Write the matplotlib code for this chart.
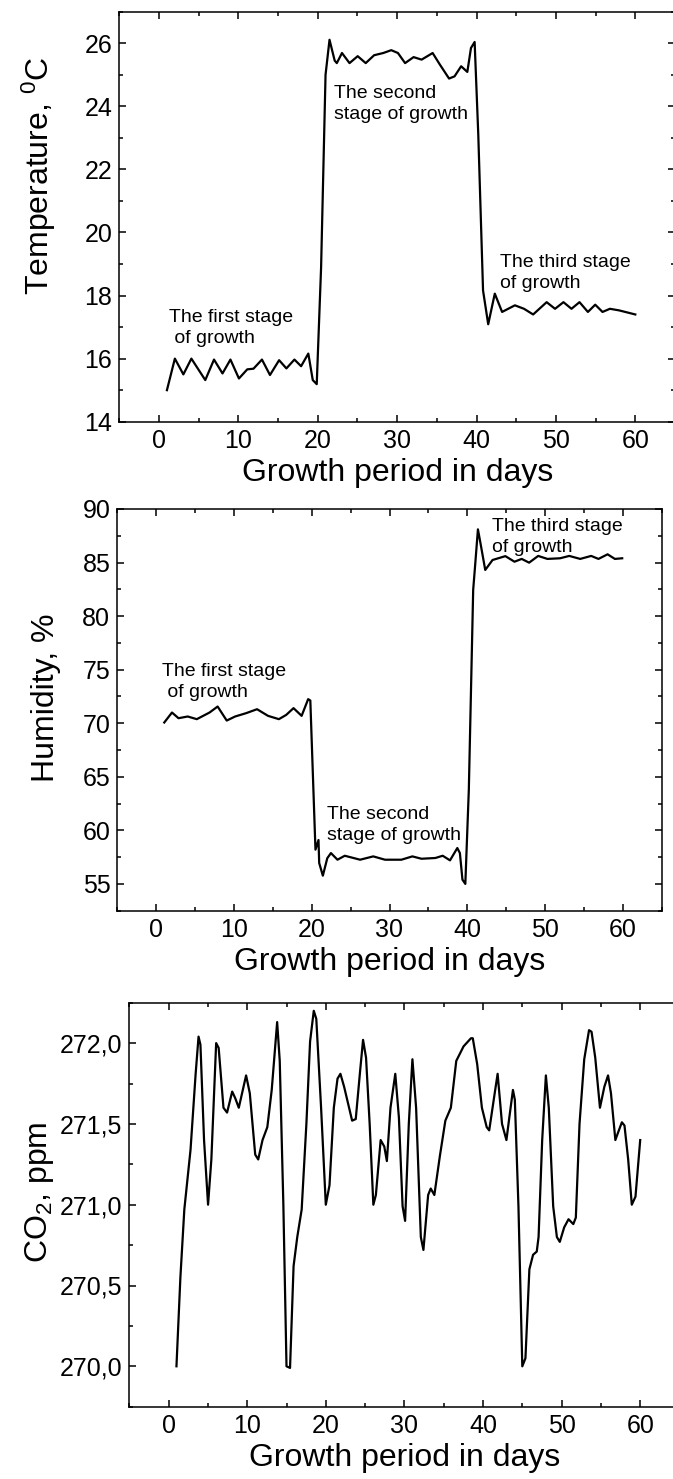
import numpy as np
import matplotlib
matplotlib.use('Agg')
import matplotlib.pyplot as plt
from matplotlib.ticker import MultipleLocator, FixedLocator, FixedFormatter

plt.rcParams['font.family'] = ['Liberation Sans', 'DejaVu Sans']
plt.rcParams['mathtext.fontset'] = 'custom'
plt.rcParams['mathtext.rm'] = 'Liberation Sans'
plt.rcParams['mathtext.it'] = 'Liberation Sans:italic'

# %% data
temp_day = [1.0, 2.0, 3.07, 4.08, 5.83, 6.93, 8.0, 9.0, 10.07, 11.12, 11.9, 12.97,
            13.98, 15.13, 16.05, 17.06, 17.9, 18.81, 19.37, 19.87, 20.42, 20.98,
            21.48, 22.13, 22.4, 23.05, 24.0, 25.03, 26.04, 27.1, 28.25, 29.26,
            30.1, 31.0, 32.07, 33.08, 34.47, 35.39, 36.54, 37.23, 38.06, 38.84,
            39.3, 39.76, 40.22, 40.82, 41.47, 42.3, 43.22, 44.83, 45.98, 47.13,
            48.83, 49.89, 50.95, 51.96, 52.97, 54.03, 54.95, 55.87, 56.8, 57.95, 60.0]
temp_val = [15.0, 16.0, 15.5, 16.0, 15.32, 15.97, 15.53, 15.97, 15.37, 15.66, 15.68, 15.97,
            15.48, 15.95, 15.69, 15.97, 15.76, 16.16, 15.32, 15.19, 18.9, 25.0,
            26.11, 25.45, 25.37, 25.69, 25.37, 25.59, 25.37, 25.62, 25.69, 25.78,
            25.69, 25.37, 25.56, 25.48, 25.69, 25.32, 24.88, 24.95, 25.27, 25.09,
            25.85, 26.04, 23.1, 18.16, 17.09, 18.06, 17.48, 17.69, 17.58, 17.4,
            17.79, 17.58, 17.79, 17.58, 17.79, 17.48, 17.71, 17.48, 17.58, 17.53, 17.4]

hum_day = [1.04, 2.03, 2.87, 4.05, 5.22, 6.86, 7.9, 9.07, 10.15, 11.56, 12.97, 14.38,
           15.78, 16.72, 17.66, 18.7, 19.54, 19.82, 20.48, 20.87, 20.96, 21.43, 22.0,
           22.47, 23.31, 24.25, 26.22, 27.91, 29.42, 31.53, 32.94, 34.11, 35.9, 36.84,
           37.78, 38.72, 39.05, 39.38, 39.75, 40.2, 40.76, 41.05, 41.37, 41.7, 42.31,
           43.25, 44.9, 46.07, 47.0, 47.95, 49.12, 50.3, 51.94, 53.11, 54.52, 55.93,
           56.87, 58.04, 58.98, 59.92]
hum_val = [70.07, 71.0, 70.47, 70.63, 70.38, 71.0, 71.56, 70.25, 70.63, 70.94, 71.31, 70.69,
           70.38, 70.78, 71.41, 70.69, 72.25, 72.12, 58.2, 59.1, 56.95, 55.77, 57.4,
           57.88, 57.26, 57.63, 57.26, 57.57, 57.26, 57.26, 57.57, 57.35, 57.42, 57.63,
           57.2, 58.35, 57.88, 55.4, 55.0, 63.8, 82.45, 85.1, 88.1, 86.8, 84.31,
           85.24, 85.6, 85.08, 85.34, 84.99, 85.62, 85.34, 85.4, 85.62, 85.34, 85.62,
           85.34, 85.77, 85.34, 85.4]

co2_day = [1.0, 1.5, 2.0, 2.79, 3.44, 3.81, 4.05, 4.51, 5.02, 5.44, 6.05, 6.37, 6.98,
           7.44, 8.09, 8.47, 8.93, 9.86, 10.33, 11.02, 11.4, 11.95, 12.56, 13.12,
           13.81, 14.14, 14.6, 15.0, 15.45, 15.9, 16.37, 16.93, 17.53, 18.0, 18.47,
           18.79, 19.4, 20.0, 20.47, 21.02, 21.49, 21.86, 22.33, 23.35, 23.81, 24.37,
           24.74, 25.12, 25.58, 26.05, 26.37, 26.98, 27.44, 27.77, 28.23, 28.84, 29.3,
           29.77, 30.09, 30.56, 31.02, 31.49, 32.09, 32.42, 33.02, 33.35, 33.81, 34.51,
           35.21, 35.91, 36.6, 37.53, 38.47, 38.7, 39.26, 39.86, 40.47, 40.79, 41.49,
           41.86, 42.42, 42.98, 43.35, 43.81, 44.05, 44.51, 45.0, 45.4, 45.9, 46.37,
           46.84, 47.07, 47.53, 48.0, 48.37, 48.93, 49.4, 49.77, 50.33, 50.88, 51.49,
           51.81, 52.28, 52.88, 53.49, 53.81, 54.28, 54.88, 55.44, 55.91, 56.28, 56.84,
           57.21, 57.67, 58.0, 58.47, 58.93, 59.4, 60.0]
co2_val = [270.0, 270.55, 270.97, 271.34, 271.81, 272.04, 271.99, 271.4, 271.0, 271.28,
           272.0, 271.97, 271.6, 271.57, 271.7, 271.66, 271.6, 271.8, 271.69, 271.31,
           271.28, 271.4, 271.48, 271.71, 272.13, 271.89, 271.0, 270.0, 269.99, 270.62,
           270.8, 270.97, 271.5, 272.01, 272.2, 272.15, 271.6, 271.0, 271.12, 271.6,
           271.78, 271.81, 271.73, 271.52, 271.53, 271.83, 272.02, 271.91, 271.5, 271.0,
           271.06, 271.4, 271.36, 271.27, 271.6, 271.81, 271.54, 270.99, 270.9, 271.5,
           271.9, 271.6, 270.8, 270.72, 271.06, 271.1, 271.06, 271.3, 271.52, 271.6,
           271.89, 271.98, 272.03, 272.03, 271.87, 271.6, 271.48, 271.46, 271.69, 271.81,
           271.5, 271.4, 271.54, 271.71, 271.65, 270.99, 270.0, 270.05, 270.6, 270.69,
           270.71, 270.8, 271.4, 271.8, 271.6, 270.99, 270.8, 270.77, 270.86, 270.91,
           270.88, 270.92, 271.5, 271.9, 272.08, 272.07, 271.91, 271.6, 271.73, 271.8,
           271.69, 271.4, 271.45, 271.51, 271.49, 271.28, 271.0, 271.05, 271.4]

x_ticks = [0, 10, 20, 30, 40, 50, 60]
temp_ticks = [14, 16, 18, 20, 22, 24, 26]
hum_ticks = [55, 60, 65, 70, 75, 80, 85, 90]
co2_ticks = [270.0, 270.5, 271.0, 271.5, 272.0]
co2_ticklabels = ['270,0', '270,5', '271,0', '271,5', '272,0']

stage_labels = ['The first stage\n of growth', 'The second\nstage of growth',
                'The third stage\nof growth']
# (x, baseline of the last line)
temp_label_pos = [(1.2, 16.49), (22.0, 23.59), (43.0, 18.25)]
hum_label_pos = [(0.75, 72.49), (21.95, 59.12), (43.2, 86.02)]

# %% figure
W, H = 673, 1479
fig = plt.figure(figsize=(W / 100, H / 100), dpi=100)


def px_axes(left, top, right, bottom):
    return fig.add_axes([left / W, 1 - bottom / H, (right - left) / W, (bottom - top) / H])


def style(ax, ylabel, ylabel_xy):
    ax.set_xlim(-5, 65)
    ax.xaxis.set_major_locator(FixedLocator(x_ticks))
    ax.xaxis.set_minor_locator(MultipleLocator(5))
    ax.tick_params(which='both', direction='in', top=True, right=True, width=1.1,
                   labelsize=18, pad=5)
    ax.tick_params(which='major', length=5.2)
    ax.tick_params(which='minor', length=3)
    for s in ax.spines.values():
        s.set_linewidth(1.1)
    ax.set_xlabel('Growth period in days', fontsize=23, labelpad=4)
    ax.set_ylabel(ylabel, fontsize=23, va='center')
    ax.yaxis.set_label_coords(*ylabel_xy)


# temperature
ax1 = px_axes(119.3, 11.7, 675, 421.7)
ax1.plot(temp_day, temp_val, color='black', lw=1.6)
ax1.set_ylim(14, 27)
ax1.yaxis.set_major_locator(FixedLocator(temp_ticks))
ax1.yaxis.set_minor_locator(MultipleLocator(1))
style(ax1, r'Temperature, $^\mathrm{0}$C', (-0.145, 0.6))
for txt, (x, y) in zip(stage_labels, temp_label_pos):
    ax1.text(x, y, txt, fontsize=14, va='baseline', ha='left', linespacing=1.3)

# humidity
ax2 = px_axes(117.3, 509, 661.7, 910.7)
ax2.plot(hum_day, hum_val, color='black', lw=1.6)
ax2.set_ylim(52.5, 90)
ax2.yaxis.set_major_locator(FixedLocator(hum_ticks))
ax2.yaxis.set_minor_locator(MultipleLocator(2.5))
style(ax2, 'Humidity, %', (-0.131, 0.53))
for txt, (x, y) in zip(stage_labels, hum_label_pos):
    ax2.text(x, y, txt, fontsize=14, va='baseline', ha='left', linespacing=1.3)

# CO2
ax3 = px_axes(129.3, 1002.7, 679.5, 1406.7)
ax3.plot(co2_day, co2_val, color='black', lw=1.6)
ax3.set_ylim(269.75, 272.25)
ax3.yaxis.set_major_locator(FixedLocator(co2_ticks))
ax3.yaxis.set_major_formatter(FixedFormatter(co2_ticklabels))
ax3.yaxis.set_minor_locator(MultipleLocator(0.25))
style(ax3, r'CO$_\mathrm{2}$, ppm', (-0.164, 0.53))

fig.savefig('out.png', dpi=100)
